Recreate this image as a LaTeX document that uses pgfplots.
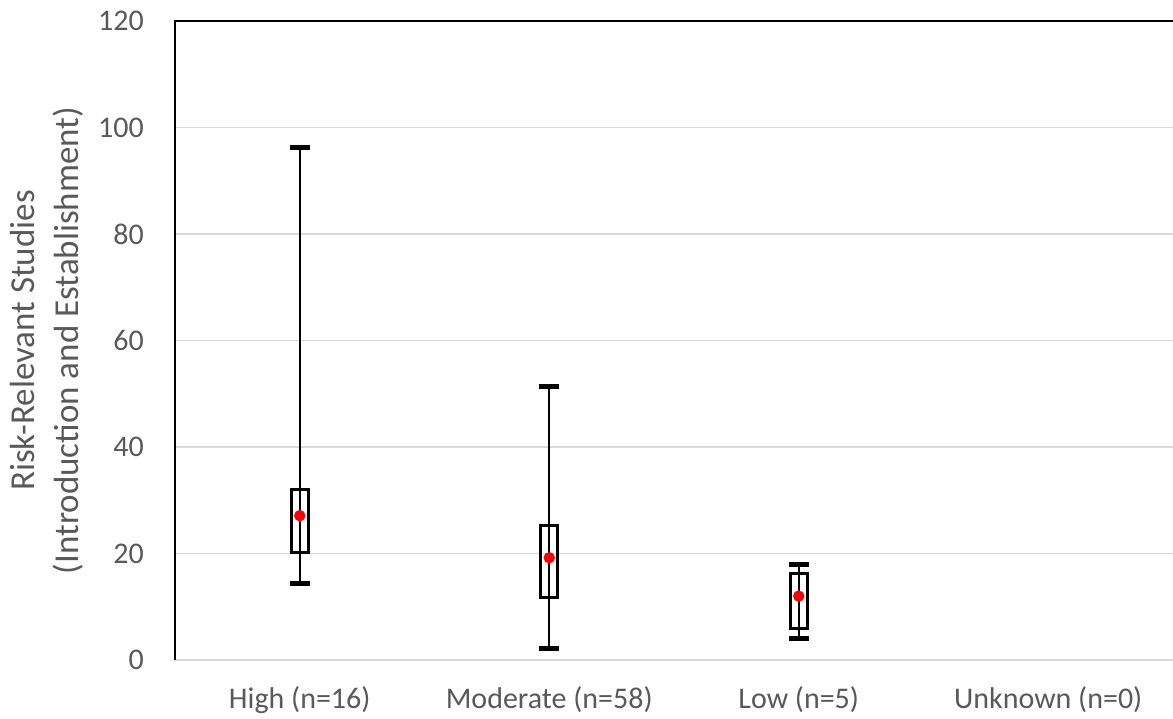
\documentclass[border=0pt]{standalone}
\usepackage{pgfplots}
\pgfplotsset{compat=1.18}
\usepackage{fontspec}
\setmainfont{Carlito}
\definecolor{txt}{HTML}{595959}
\definecolor{gridc}{HTML}{D9D9D9}
\begin{document}
\begin{tikzpicture}
\begin{axis}[
  scale only axis, width=998pt, height=639pt,
  xmin=-0.5, xmax=3.5, ymin=0, ymax=120,
  xtick={0,1,2,3},
  xticklabels={High (n=16), Moderate (n=58), Low (n=5), Unknown (n=0)},
  ytick={0,20,40,60,80,100,120},
  major tick length=0pt,
  ymajorgrids, grid style={gridc, line width=1.5pt},
  axis line style={draw=none},
  clip=false,
  /pgf/number format/assume math mode=true,
  tick label style={font=\fontsize{30}{36}\selectfont, text=txt, inner sep=0pt},
  xticklabel style={anchor=base, yshift=-49pt},
  yticklabel style={anchor=east, xshift=-31pt},
  ylabel={Risk-Relevant Studies\\(Introduction and Establishment)},
  ylabel style={font=\fontsize{35}{44}\selectfont, text=txt, align=center, at={(axis description cs:0,0.5)}, anchor=south, yshift=91pt, inner sep=0pt},
]
\draw[black, line width=2pt] (rel axis cs:0,0) -- (rel axis cs:0,1) -- (rel axis cs:1,1);
% whiskers
\addplot[black, line width=2pt] coordinates {(0,14.3) (0,96.2)};
\addplot[black, line width=2pt] coordinates {(1,2.2) (1,51.3)};
\addplot[black, line width=2pt] coordinates {(2,4.1) (2,18.0)};
% caps
\addplot[black, line width=5pt] coordinates {(-0.04,96.2) (0.04,96.2)};
\addplot[black, line width=5pt] coordinates {(-0.04,14.3) (0.04,14.3)};
\addplot[black, line width=5pt] coordinates {(0.96,51.3) (1.04,51.3)};
\addplot[black, line width=5pt] coordinates {(0.96,2.2) (1.04,2.2)};
\addplot[black, line width=5pt] coordinates {(1.96,18.0) (2.04,18.0)};
\addplot[black, line width=5pt] coordinates {(1.96,4.1) (2.04,4.1)};
% boxes
\addplot[black, line width=3pt] coordinates {(-0.035,20.1) (0.035,20.1) (0.035,32.1) (-0.035,32.1)} -- cycle;
\addplot[black, line width=3pt] coordinates {(0.965,11.8) (1.035,11.8) (1.035,25.2) (0.965,25.2)} -- cycle;
\addplot[black, line width=3pt] coordinates {(1.965,5.9) (2.035,5.9) (2.035,16.3) (1.965,16.3)} -- cycle;
% means
\addplot[only marks, mark=*, mark size=5.5pt, color=red, mark options={draw=none, fill=red}] coordinates {(0,27.1) (1,19.2) (2,12.0)};
\end{axis}
\pgfresetboundingbox
\path (current axis.south west) ++(-175pt,-59pt) coordinate (bl);
\path (current axis.north east) ++(0pt,21pt) coordinate (tr);
\useasboundingbox (bl) rectangle (tr);
\end{tikzpicture}
\end{document}
